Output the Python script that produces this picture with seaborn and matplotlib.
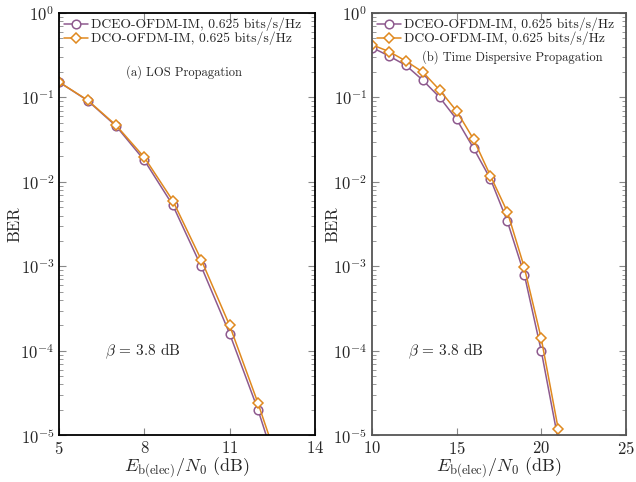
import numpy as np
import pandas as pd
import seaborn as sns
import matplotlib.pyplot as plt
from matplotlib.ticker import LogLocator, NullFormatter

# data
snr_los = [5, 6, 7, 8, 9, 10, 11, 12, 13]
ber_dceo_los = [0.152, 0.092, 0.046, 0.018, 0.0053, 0.001, 0.00016, 0.00002, 0.0000018]
ber_dco_los = [0.152, 0.093, 0.047, 0.0195, 0.006, 0.0012, 0.0002, 0.000024, 0.0000024]

snr_disp = [10, 11, 12, 13, 14, 15, 16, 17, 18, 19, 20, 21]
ber_dceo_disp = [0.39, 0.31, 0.24, 0.16, 0.1, 0.055, 0.025, 0.0108, 0.0034, 0.0008, 0.0001, 0.0000088]
ber_dco_disp = [0.42, 0.35, 0.27, 0.2, 0.122, 0.069, 0.032, 0.0118, 0.0044, 0.00097, 0.00014, 0.000012]

labels = ["DCEO-OFDM-IM, 0.625 bits/s/Hz", "DCO-OFDM-IM, 0.625 bits/s/Hz"]
colors = ["#8e5a8e", "#e0891f"]
markers = ["o", "D"]

sns.set_style("ticks")
plt.rcParams["font.family"] = "serif"
plt.rcParams["font.serif"] = ["cmr10", "DejaVu Serif"]
plt.rcParams["mathtext.fontset"] = "cm"
plt.rcParams["axes.formatter.use_mathtext"] = True
plt.rcParams["axes.unicode_minus"] = False

fig = plt.figure(figsize=(6.36, 4.82), dpi=100)
ax1 = fig.add_axes([0.093, 0.097, 0.402, 0.876])
ax2 = fig.add_axes([0.585, 0.097, 0.399, 0.876])


def build(snr, dceo, dco):
    df = pd.DataFrame({
        "snr": snr * 2,
        "ber": dceo + dco,
        "scheme": [labels[0]] * len(snr) + [labels[1]] * len(snr),
    })
    return df


panels = [
    (ax1, build(snr_los, ber_dceo_los, ber_dco_los), (5, 14), [5, 8, 11, 14],
     "(a) LOS Propagation", (9.4, 0.2), (6.6, 1e-4), "black", -0.145),
    (ax2, build(snr_disp, ber_dceo_disp, ber_dco_disp), (10, 25), [10, 15, 20, 25],
     "(b) Time Dispersive Propagation", (18.3, 0.3), (12.1, 1e-4), "#555555", -0.125),
]

for ax, df, xlim, xticks, title, tpos, bpos, spine_col, ylab_x in panels:
    for i, lab in enumerate(labels):
        sub = df[df["scheme"] == lab]
        sns.lineplot(data=sub, x="snr", y="ber", ax=ax, color=colors[i],
                     marker=markers[i], markersize=6.2 if i == 0 else 4.8,
                     markerfacecolor="white", markeredgecolor=colors[i],
                     markeredgewidth=1.1, linewidth=1.1, label=lab)
    ax.set_yscale("log")
    ax.set_ylim(1e-5, 1)
    ax.set_xlim(*xlim)
    ax.set_xticks(xticks)
    ax.yaxis.set_major_locator(LogLocator(base=10, numticks=10))
    ax.yaxis.set_minor_locator(LogLocator(base=10, subs=np.arange(2, 10), numticks=10))
    ax.yaxis.set_minor_formatter(NullFormatter())
    ax.tick_params(which="both", direction="in", top=True, right=True,
                   labelsize=12, color="#888888")
    ax.tick_params(which="major", length=5)
    ax.tick_params(which="minor", length=3)
    for s in ax.spines.values():
        s.set_color(spine_col)
        s.set_linewidth(1.3)
    ax.set_xlabel(r"$E_{\mathrm{b(elec)}}/N_0$ (dB)", fontsize=13)
    ax.xaxis.set_label_coords(0.5, -0.048)
    ax.set_ylabel("BER", fontsize=12)
    ax.yaxis.set_label_coords(ylab_x, 0.5)
    ax.text(tpos[0], tpos[1], title, ha="center", va="center", fontsize=9)
    ax.text(bpos[0], bpos[1], r"$\beta$ = 3.8 dB", ha="left", va="center", fontsize=11)
    ax.legend(loc="upper left", frameon=False, fontsize=9.8, handlelength=1.8,
              handletextpad=0.2, borderaxespad=0.15, borderpad=0.2,
              labelspacing=0.05)

fig.savefig("out.png", dpi=100)
